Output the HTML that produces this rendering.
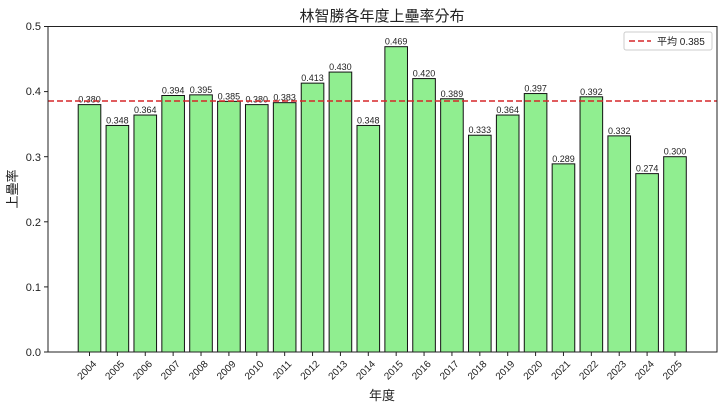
<!DOCTYPE html>
<html><head><meta charset="utf-8"><style>
body{margin:0;background:#fff}
svg text{font-family:"Liberation Sans","Noto Sans CJK TC",sans-serif;fill:#222}
</style></head><body>
<svg width="723" height="411" xmlns="http://www.w3.org/2000/svg">
<text x="382" y="21" font-size="15" text-anchor="middle">林智勝各年度上壘率分布</text>
<g id="bars"></g>
<line x1="48" y1="101" x2="717" y2="101" stroke="#d62728" stroke-width="1.6" stroke-dasharray="6,3"/>
<rect x="48" y="26.5" width="669" height="325.5" fill="none" stroke="#222" stroke-width="1"/>
<g font-size="11" text-anchor="end">
<text x="41" y="356">0.0</text><line x1="44" x2="48" y1="352" y2="352" stroke="#222"/>
<text x="41" y="291">0.1</text><line x1="44" x2="48" y1="286.9" y2="286.9" stroke="#222"/>
<text x="41" y="226">0.2</text><line x1="44" x2="48" y1="221.8" y2="221.8" stroke="#222"/>
<text x="41" y="161">0.3</text><line x1="44" x2="48" y1="156.7" y2="156.7" stroke="#222"/>
<text x="41" y="95">0.4</text><line x1="44" x2="48" y1="91.6" y2="91.6" stroke="#222"/>
<text x="41" y="30">0.5</text><line x1="44" x2="48" y1="26.5" y2="26.5" stroke="#222"/>
</g>
<text transform="translate(17,189) rotate(-90)" font-size="13" text-anchor="middle">上壘率</text>
<text x="382" y="400" font-size="13" text-anchor="middle">年度</text>
<rect x="624" y="32" width="88" height="18" fill="#fff" stroke="#ccc" rx="2"/>
<line x1="629" y1="41" x2="651" y2="41" stroke="#d62728" stroke-width="1.6" stroke-dasharray="6,3"/>
<text x="657" y="45" font-size="10">平均 0.385</text>
</svg>
<script>
const v=[.380,.348,.364,.394,.395,.385,.380,.383,.413,.430,.348,.469,.420,.389,.333,.364,.397,.289,.392,.332,.274,.300];
const g=document.getElementById('bars');let h='';
v.forEach((d,i)=>{const c=89.5+i*27.88,y=352-d*651;
h+=`<rect x="${c-11.3}" y="${y}" width="22.6" height="${352-y}" fill="#90ee90" stroke="#111" stroke-width="1"/>`;
h+=`<text x="${c}" y="${y-2}" font-size="9" text-anchor="middle">${d.toFixed(3)}</text>`;
h+=`<line x1="${c}" x2="${c}" y1="352" y2="356" stroke="#222"/>`;
h+=`<text transform="translate(${c+3},${360}) rotate(-45)" font-size="10" text-anchor="end" dominant-baseline="hanging">${2004+i}</text>`;});
g.innerHTML=h;
</script>
</body></html>
